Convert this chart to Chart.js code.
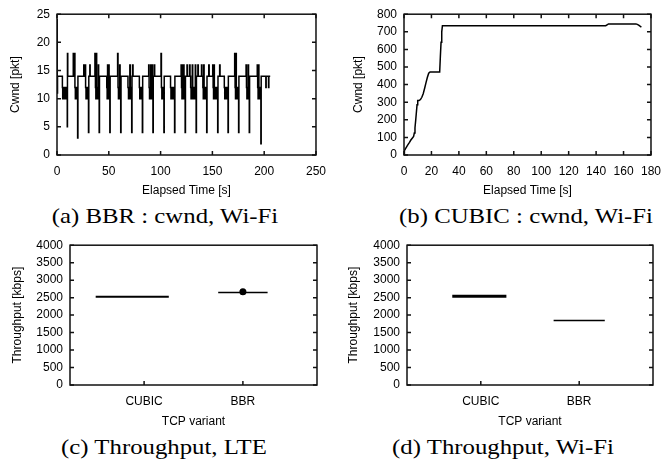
<!DOCTYPE html>
<html><head><meta charset="utf-8">
<script src="https://cdn.jsdelivr.net/npm/chart.js@4/dist/chart.umd.min.js"></script>
<style>
html,body{margin:0;padding:0;background:#fff;width:670px;height:462px;overflow:hidden;position:relative;}
canvas{position:absolute;}
.cap{position:absolute;font-family:"Liberation Serif","Times New Roman",serif;font-size:21px;color:#000;white-space:nowrap;line-height:21px;transform:translateX(-50%) scaleX(1.18);}
</style></head><body>
<canvas id="ca" width="335" height="200" style="left:0;top:0"></canvas>
<canvas id="cb" width="335" height="200" style="left:335px;top:0"></canvas>
<canvas id="cc" width="335" height="200" style="left:0;top:231px"></canvas>
<canvas id="cd" width="335" height="200" style="left:335px;top:231px"></canvas>
<div class="cap" style="left:165px;top:206px">(a) BBR : cwnd, Wi-Fi</div>
<div class="cap" style="left:526px;top:206px">(b) CUBIC : cwnd, Wi-Fi</div>
<div class="cap" style="left:164px;top:437px">(c) Throughput, LTE</div>
<div class="cap" style="left:503px;top:437px">(d) Throughput, Wi-Fi</div>
<script>
// ---- (a) BBR cwnd over Wi-Fi: step trace (time s, cwnd pkt) ----
const bbrTime = [
  0,0.2,0.5,5.2,5.5,5.8,6.1,6.4,6.7,7.0,7.3,7.6,7.9,8.2,8.5,8.8,9.1,9.4,9.7,9.9,10.1,10.4,
  15.7,16.2,16.8,17.3,17.7,18.1,18.5,18.9,19.3,19.9,20.2,
  25.8,26.2,27.2,27.6,28.0,28.4,28.8,29.2,29.6,30.4,30.7,31.7,32.0,
  36.6,37.1,37.5,37.9,38.3,38.7,39.1,39.5,39.9,40.2,40.7,41.0,
  48.0,48.4,48.8,49.2,49.6,50.0,50.3,50.6,51.0,51.3,
  58.5,58.9,59.3,59.7,60.1,60.5,60.9,61.5,61.8,
  68.5,69.0,69.4,69.8,70.3,70.8,71.2,71.6,72.1,72.4,73.0,73.4,
  79.5,79.9,80.3,80.7,81.1,81.5,81.9,82.4,82.7,
  88.5,88.9,89.3,89.7,90.1,90.5,90.9,91.3,92.0,92.3,92.6,92.9,94.0,94.3,
  100.4,100.8,101.2,101.6,102.0,102.4,102.8,103.2,103.5,
  109.6,110.0,110.4,110.8,111.2,111.6,112.0,112.5,113.0,113.5,113.8,
  119.8,120.2,120.6,121.0,121.4,121.8,122.2,122.6,123.0,123.7,124.0,125.5,125.9,
  128.0,128.4,129.0,129.4,129.8,130.2,130.6,131.0,131.4,131.8,132.2,133.5,133.9,134.3,134.6,136.0,136.4,
  139.5,139.9,140.8,141.2,141.6,142.0,142.4,142.8,143.2,143.6,144.0,144.5,144.8,146.5,146.9,
  150.3,150.7,151.1,151.5,151.9,152.3,152.7,153.1,154.5,155.1,155.4,157.0,157.4,
  161.5,161.9,162.3,162.7,163.1,163.5,163.9,164.3,164.7,165.1,165.4,
  171.5,171.9,172.3,172.7,173.1,173.5,173.9,174.3,174.7,175.3,175.6,
  182.5,182.9,183.3,183.7,184.1,184.5,184.9,185.6,185.9,
  193.3,193.7,194.1,194.5,194.9,195.3,195.7,196.1,196.8,197.1,
  201.6,201.9,204.2,204.5,205.8
];
const bbrCwnd = [
  24,11,14,12,10,12,10,12,10,12,10,12,10,12,10,12,10,12,10,5,18,14,
  18,14,18,12,10,12,10,12,10,3,14,
  16,14,16,12,10,12,10,12,10,4,14,16,14,
  18,12,10,18,12,10,12,10,16,10,4,14,
  12,10,16,12,10,16,12,10,4,14,
  18,12,10,12,10,16,10,4,14,
  12,10,12,10,16,10,12,10,4,14,16,14,
  12,10,12,10,12,10,12,4,14,
  16,12,10,12,10,16,12,10,16,12,4,14,16,14,
  18,12,10,12,10,12,10,4,14,
  12,10,12,10,12,10,12,10,12,4,14,
  16,12,10,16,12,10,16,12,10,4,14,16,14,
  16,14,12,10,12,10,16,12,10,12,10,16,12,4,14,16,14,
  16,14,12,10,16,12,10,12,10,12,10,4,14,16,14,
  16,12,10,16,12,10,12,10,12,4,14,16,14,
  12,10,12,10,12,10,12,10,12,4,14,
  18,12,10,18,12,10,12,10,12,4,14,
  16,12,10,12,10,16,10,4,14,
  16,12,10,16,12,10,12,10,2,14,
  12,14,12,14,14
];
// ---- (b) CUBIC cwnd over Wi-Fi ----
const cubicTime = [0,0.3,1,2,3,4,5,6,7,7.5,8,8.5,9,9.5,10,11,12,13,14,15,16,17,18,19,26,26.5,27,27.5,28,147,148,149,169,170,171,172,173];
const cubicCwnd = [0,25,35,48,60,72,85,95,105,125,155,195,240,285,310,310,315,328,348,378,410,440,465,472,472,560,640,700,735,735,740,745,745,742,738,732,727];
// ---- (c),(d) throughput per TCP variant (kbps) ----
const variants = ['CUBIC','BBR'];
const lteThroughput = [2525, 2647];
const lteOutlier = [null, 2667];
const wifiThroughput = [2540, 1845];

// drawing geometry (box extents on the category axis)
const lteSpan = [[0.51,1.25],[1.75,2.25]];
const wifiSpan = [[0.71,1.26],[1.74,2.26]];
const wifiWidth = [3, 1.3];
const lteWidth = [2, 1.3];

const FONT = {family:"'Liberation Sans', Arial, sans-serif", size:12};

function framePlugin(mirrorX){
  return {id:'frame', afterDraw(chart){
    const {ctx, chartArea:a} = chart; const xs = chart.scales.x, ys = chart.scales.y; const tl = 4;
    ctx.save(); ctx.strokeStyle = '#111'; ctx.lineWidth = 1.5; ctx.beginPath();
    xs.ticks.forEach(t => { const p = xs.getPixelForValue(t.value);
      ctx.moveTo(p, a.bottom); ctx.lineTo(p, a.bottom - tl);
      if (mirrorX) { ctx.moveTo(p, a.top); ctx.lineTo(p, a.top + tl); } });
    ys.ticks.forEach(t => { const p = ys.getPixelForValue(t.value);
      ctx.moveTo(a.left, p); ctx.lineTo(a.left + tl, p);
      ctx.moveTo(a.right, p); ctx.lineTo(a.right - tl, p); });
    ctx.stroke();
    ctx.strokeRect(a.left, a.top, a.right - a.left, a.bottom - a.top);
    ctx.restore();
  }};
}

function makeChart(id, datasets, cfg){
  const xScale = {type:'linear', min:cfg.xmin, max:cfg.xmax,
    ticks:{stepSize:cfg.xstep, padding:9, color:'#000', font:FONT, maxRotation:0, autoSkip:false,
      callback: cfg.xcb || (v => String(v))},
    grid:{display:false, drawTicks:false}, border:{display:false},
    title:{display:true, text:cfg.xtitle, color:'#000', font:FONT, padding:{top:0,bottom:2}},
    afterFit(s){ s.height = cfg.xh; }};
  if (cfg.xticks) xScale.afterBuildTicks = s => { s.ticks = cfg.xticks.map(v => ({value:v})); };
  const yScale = {type:'linear', min:cfg.ymin, max:cfg.ymax,
    ticks:{stepSize:cfg.ystep, padding:7, color:'#000', font:FONT, callback: v => String(v)},
    grid:{display:false, drawTicks:false}, border:{display:false},
    title:{display:true, text:cfg.ytitle, color:'#000', font:FONT, padding:{top:cfg.ytpad, bottom:0}},
    afterFit(s){ s.width = cfg.yw; }};
  return new Chart(document.getElementById(id), {
    type:'line',
    data:{datasets},
    options:{responsive:false, animation:false, events:[],
      layout:{padding:{left:0, top:13, right:cfg.rpad, bottom:0}},
      plugins:{legend:{display:false}, tooltip:{enabled:false}},
      scales:{x:xScale, y:yScale}},
    plugins:[framePlugin(cfg.mirrorX)]
  });
}

const lineStyle = {borderColor:'#000', pointRadius:0, fill:false, tension:0};

makeChart('ca', [Object.assign({
  data: bbrTime.map((t,i) => ({x:t, y:bbrCwnd[i]})), borderWidth:1.5, stepped:true}, lineStyle)],
  {xmin:0, xmax:250, xstep:50, xtitle:'Elapsed Time [s]', xh:45,
   ymin:0, ymax:25, ystep:5, ytitle:'Cwnd [pkt]', ytpad:8, yw:57, rpad:18, mirrorX:true});

makeChart('cb', [Object.assign({
  data: cubicTime.map((t,i) => ({x:t, y:cubicCwnd[i]})), borderWidth:1.5}, lineStyle)],
  {xmin:0, xmax:180, xstep:20, xtitle:'Elapsed Time [s]', xh:45,
   ymin:0, ymax:800, ystep:100, ytitle:'Cwnd [pkt]', ytpad:16, yw:69, rpad:12, mirrorX:true});

function boxSets(values, spans, widths, outliers){
  const ds = values.map((v,i) => Object.assign({
    data:[{x:spans[i][0], y:v}, {x:spans[i][1], y:v}], borderWidth:widths[i]}, lineStyle));
  if (outliers) ds.push({type:'scatter', data: outliers.map((v,i) => v == null ? null : {x:i+1, y:v}).filter(p => p),
    pointRadius:3.5, backgroundColor:'#000', borderColor:'#000', borderWidth:0});
  return ds;
}
const catTicks = variants.map((_,i) => i+1);
const catLabel = v => variants[v-1] || '';

makeChart('cc', boxSets(lteThroughput, lteSpan, lteWidth, lteOutlier),
  {xmin:0.25, xmax:2.75, xticks:catTicks, xcb:catLabel, xtitle:'TCP variant', xh:46,
   ymin:0, ymax:4000, ystep:500, ytitle:'Throughput [kbps]', ytpad:10.5, yw:70, rpad:18, mirrorX:false});

makeChart('cd', boxSets(wifiThroughput, wifiSpan, wifiWidth, null),
  {xmin:0.25, xmax:2.75, xticks:catTicks, xcb:catLabel, xtitle:'TCP variant', xh:46,
   ymin:0, ymax:4000, ystep:500, ytitle:'Throughput [kbps]', ytpad:11, yw:72, rpad:17, mirrorX:false});
</script>
</body></html>
